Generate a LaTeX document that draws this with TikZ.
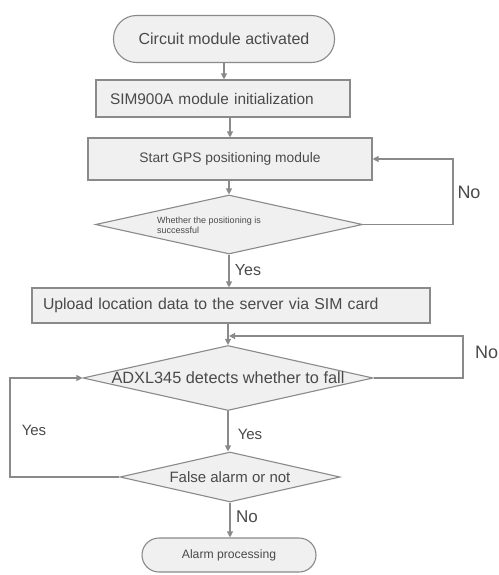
\documentclass[tikz,border=0pt]{standalone}
\usepackage{fontspec}
\setmainfont{Liberation Sans}
\usetikzlibrary{shapes.geometric,arrows.meta}
\definecolor{linegray}{HTML}{8A8A8A}
\definecolor{textgray}{HTML}{4A4A4A}
\definecolor{boxfill}{HTML}{F0F0F0}
\tikzset{
  base/.style={draw=linegray, line width=1.1pt, fill=boxfill, text=textgray, inner sep=0pt, font=\fontsize{14}{16}\selectfont},
  term/.style={base, rectangle, rounded corners=#1},
  procbox/.style={base, rectangle},
  decision/.style={base, diamond, aspect=4},
  conn/.style={draw=linegray, line width=1.1pt, -{Triangle[length=6pt,width=6pt]}},
  plain/.style={draw=linegray, line width=1.1pt},
  lbl/.style={text=textgray, inner sep=0pt}
}
\begin{document}
\begin{tikzpicture}[x=1pt,y=-1pt]
\useasboundingbox (0,0) rectangle (498,575);
\fill[white] (0,0) rectangle (498,575);

\node[term=23pt, minimum width=221pt, minimum height=47pt, font=\fontsize{16}{18}\selectfont] (t1) at (224,39) {Circuit module activated};
\node[procbox, minimum width=254pt, minimum height=37pt, text width=226pt, align=left, inner xsep=14pt, font=\fontsize{15.4}{17}\selectfont] (b2) at (223,98.5) {SIM900A module initialization};
\node[procbox, minimum width=284pt, minimum height=42pt, font=\fontsize{13.8}{16}\selectfont] (b3) at (230,159) {Start GPS positioning module};
\node[decision, minimum width=267pt, minimum height=59pt,
  label={[lbl, xshift=-20pt, yshift=-1pt, align=left, font=\fontsize{9}{10}\selectfont]center:Whether the positioning is\\successful}] (d1) at (229,224.5) {};
\node[procbox, minimum width=398pt, minimum height=35pt, text width=376pt, align=left, inner xsep=11pt, font=\fontsize{15.8}{17}\selectfont] (b4) at (231,305.5) {Upload location data to the server via SIM card};
\node[decision, minimum width=290pt, minimum height=65pt, font=\fontsize{16.3}{18}\selectfont] (d2) at (228,378) {\makebox[0pt]{ADXL345 detects whether to fall}};
\node[decision, minimum width=220pt, minimum height=50pt, font=\fontsize{15}{17}\selectfont] (d3) at (230,477) {\makebox[0pt]{False alarm or not}};
\node[term=17pt, minimum width=174pt, minimum height=34pt, font=\fontsize{12.2}{14}\selectfont] (t2) at (229,555) {Alarm processing};

\coordinate (r1) at (453,0);
\coordinate (r2) at (463,0);
\coordinate (l1) at (10,0);
\coordinate (m1) at (229,336);

\draw[conn] (t1.south) -- (t1.south |- b2.north);
\draw[conn] (b2.south -| b3.north) -- (b3.north);
\draw[conn] (b3.south -| d1.north) -- (d1.north);
\draw[conn] (d1.east) -- (d1.east -| r1) -- (b3.east -| r1) -- (b3.east);
\draw[conn] (d1.south) -- (d1.south |- b4.north);
\draw[conn] (b4.south -| d2.north) -- (d2.north);
\draw[conn] (d2.east) -- (d2.east -| r2) -- (m1 -| r2) -- (m1);
\draw[conn] (d2.south) -- (d2.south |- d3.north);
\draw[conn] (d3.west) -- (d3.west -| l1) -- (d2.west -| l1) -- (d2.west);
\draw[conn] (d3.south) -- (d3.south |- t2.north);

\node[lbl, font=\fontsize{18}{20}\selectfont] (no1) at (469,192) {No};
\node[lbl, font=\fontsize{16}{18}\selectfont] (yes1) at (248,270) {Yes};
\node[lbl, anchor=west, font=\fontsize{18}{20}\selectfont] (no2) at (475,352) {No};
\node[lbl, font=\fontsize{15}{17}\selectfont] (yes2) at (34,430) {Yes};
\node[lbl, font=\fontsize{15}{17}\selectfont] (yes3) at (250,434) {Yes};
\node[lbl, font=\fontsize{17}{19}\selectfont] (no3) at (247,517) {No};
\end{tikzpicture}
\end{document}
